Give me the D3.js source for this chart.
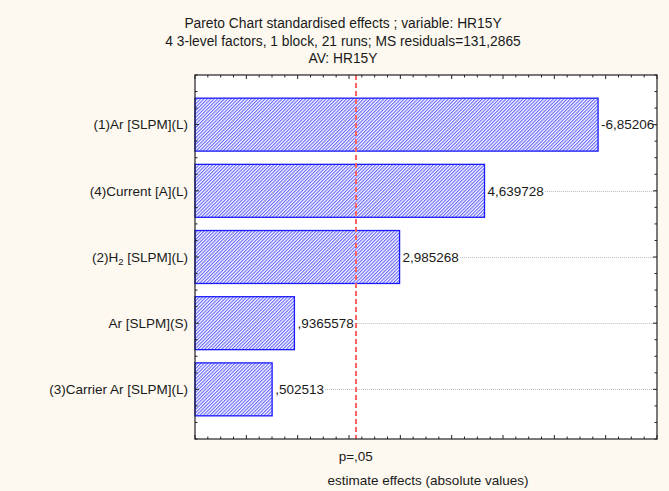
<!DOCTYPE html>
<html>
<head>
<meta charset="utf-8">
<script src="https://cdn.jsdelivr.net/npm/d3@7"></script>
<style>
  html, body { margin: 0; padding: 0; background: #fdf9f0; }
  svg { display: block; }
  text { font-family: "Liberation Sans", Arial, sans-serif; fill: #1a1a1a; }
</style>
</head>
<body>
<script>
// ---- data ----
const categories = ["(1)Ar [SLPM](L)", "(4)Current [A](L)", "(2)H2 [SLPM](L)", "Ar [SLPM](S)", "(3)Carrier Ar [SLPM](L)"];
const effects = [-6.85206, 4.639728, 2.985268, 0.9365578, 0.502513];
const valueLabels = ["-6,85206", "4,639728", "2,985268", ",9365578", ",502513"];
const pCritical = 2.131;
const pLabel = "p=,05";
const titleLines = [
  "Pareto Chart standardised effects ; variable: HR15Y",
  "4 3-level factors, 1 block, 21 runs; MS residuals=131,2865",
  "AV: HR15Y"
];
const xTitle = "estimate effects (absolute values)";
const xDomain = [-1, 8];

// ---- layout ----
const W = 669, H = 491;
const L = 195, R = 657, T = 75, B = 439;
const FS = 13.5;

const svg = d3.select("body").append("svg").attr("width", W).attr("height", H);
svg.append("rect").attr("width", W).attr("height", H).attr("fill", "#fdf9f0");

const defs = svg.append("defs");
const pat = defs.append("pattern").attr("id", "hatch")
  .attr("patternUnits", "userSpaceOnUse").attr("width", 2.4).attr("height", 2.4)
  .attr("patternTransform", "rotate(45)");
pat.append("rect").attr("width", 2.4).attr("height", 2.4).attr("fill", "#ffffff");
pat.append("line").attr("x1", 0.6).attr("y1", 0).attr("x2", 0.6).attr("y2", 2.4)
  .attr("stroke", "#5050ff").attr("stroke-width", 1.0);

const x = d3.scaleLinear().domain(xDomain).range([L, R]);
const y = d3.scaleBand().domain(categories).range([T, B]).paddingInner(0.2).paddingOuter(0.35);

// plot background
svg.append("rect").attr("x", L).attr("y", T).attr("width", R - L).attr("height", B - T).attr("fill", "#ffffff");

// title
svg.append("g").selectAll("text").data(titleLines).join("text")
  .attr("x", 343).attr("y", (d, i) => 28 + i * 17.6)
  .attr("text-anchor", "middle").attr("font-size", 13.8).text(d => d);

// bars
const bars = svg.append("g");
const rows = categories.map((c, i) => ({ c, v: Math.abs(effects[i]), lab: valueLabels[i] }));
bars.selectAll("rect").data(rows).join("rect")
  .attr("x", x(xDomain[0])).attr("y", d => y(d.c))
  .attr("width", d => x(d.v) - x(xDomain[0]))
  .attr("height", y.bandwidth())
  .attr("fill", "url(#hatch)")
  .attr("stroke", "#1a1aff").attr("stroke-width", 1.3);

// value labels + dotted leaders
const labs = svg.append("g");
rows.forEach(d => {
  const cy = y(d.c) + y.bandwidth() / 2;
  const t = labs.append("text").attr("x", x(d.v) + 3).attr("y", cy + 4.8)
    .attr("font-size", FS).text(d.lab);
  const end = x(d.v) + 3 + t.node().getComputedTextLength() + 1;
  if (end < R) {
    labs.insert("line", "text").attr("x1", end).attr("x2", R).attr("y1", Math.round(cy) + 0.5).attr("y2", Math.round(cy) + 0.5)
      .attr("stroke", "#bdbdbd").attr("stroke-width", 1).attr("stroke-dasharray", "1,1");
  }
});

// critical line
const xc = Math.round(x(pCritical));
svg.append("line").attr("x1", xc).attr("x2", xc).attr("y1", T).attr("y2", B)
  .attr("stroke", "#ff6464").attr("stroke-width", 2).attr("stroke-dasharray", "5,3");

// ticks (inward) on all four sides
const tk = svg.append("g").attr("stroke", "#222").attr("stroke-width", 1);
const xt = d3.range(xDomain[0], xDomain[1] + 0.001, 0.25);
xt.forEach(v => {
  const major = Math.abs(v - Math.round(v)) < 1e-6;
  const len = major ? 4 : 2.5;
  tk.append("line").attr("x1", x(v)).attr("x2", x(v)).attr("y1", B).attr("y2", B - len);
  tk.append("line").attr("x1", x(v)).attr("x2", x(v)).attr("y1", T).attr("y2", T + len);
});
const step = y.step();
const c0 = y(categories[0]) + y.bandwidth() / 2;
for (let k = -8; k <= 30; k++) {
  const yy = c0 + k * step / 4;
  if (yy < T - 0.5 || yy > B + 0.5) continue;
  const major = k % 4 === 0 && k >= 0 && k / 4 < categories.length;
  const len = major ? 4 : 2.5;
  tk.append("line").attr("x1", L).attr("x2", L + len).attr("y1", yy).attr("y2", yy);
  tk.append("line").attr("x1", R).attr("x2", R - len).attr("y1", yy).attr("y2", yy);
}

// frame
svg.append("rect").attr("x", L).attr("y", T).attr("width", R - L).attr("height", B - T)
  .attr("fill", "none").attr("stroke", "#222").attr("stroke-width", 1.2);

// y labels
const yl = svg.append("g");
categories.forEach(c => {
  const t = yl.append("text").attr("x", 188).attr("y", y(c) + y.bandwidth() / 2 + 4.8)
    .attr("text-anchor", "end").attr("font-size", FS);
  const m = c.match(/^(.*H)2( .*)$/);
  if (m) {
    t.append("tspan").text(m[1]);
    t.append("tspan").attr("font-size", 9.5).attr("dy", 3).text("2");
    t.append("tspan").attr("dy", -3).text(m[2]);
  } else {
    t.text(c);
  }
});

// x labels
svg.append("text").attr("x", x(pCritical)).attr("y", 461).attr("text-anchor", "middle")
  .attr("font-size", FS).text(pLabel);
svg.append("text").attr("x", 428).attr("y", 485).attr("text-anchor", "middle")
  .attr("font-size", FS).text(xTitle);
</script>
</body>
</html>
